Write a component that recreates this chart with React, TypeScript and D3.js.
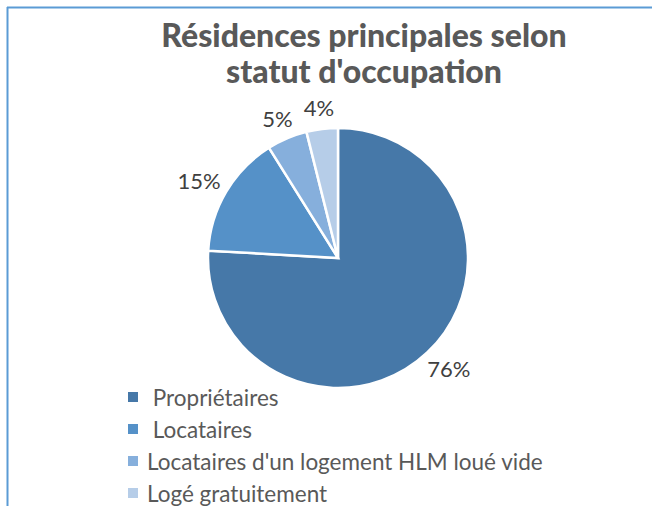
import React from "react";
import * as d3 from "d3";

// catégories (les deux premières ont un espace en tête, comme dans l'original)
const categories = [
  " Propriétaires",
  " Locataires",
  "Locataires d'un logement HLM loué vide",
  "Logé gratuitement",
];
const values = [75.9, 15.2, 5.0, 3.9];
const colors = ["#4678a8", "#5591c8", "#86afdc", "#b6cde8"];
const titleLines = ["Résidences principales selon", "statut d'occupation"];

const W = 652;
const H = 506;
const cx = 338;
const cy = 258;
const radius = 130;
const font = "Lato, 'Open Sans', sans-serif";

const App = () => {
  const total = d3.sum(values);
  const pie = d3
    .pie<number>()
    .sort(null)
    .value((d) => d);
  const arcs = pie(values);
  const arc = d3.arc<d3.PieArcDatum<number>>().innerRadius(0).outerRadius(radius);

  // étiquettes à l'extérieur, boîte décalée selon la direction
  const labelPos = (a: d3.PieArcDatum<number>, w: number, h: number) => {
    const mid = (a.startAngle + a.endAngle) / 2;
    const dx = Math.sin(mid);
    const dy = -Math.cos(mid);
    const r = radius + 12;
    return [dx * r + (dx * w) / 2, dy * r + (dy * h) / 2];
  };

  const legendY = d3.scaleLinear().domain([0, 3]).range([397, 493]);

  return (
    <div style={{ position: "absolute", left: 0, top: 0 }}>
      <svg width={W} height={H} style={{ display: "block" }}>
        <rect width={W} height={H} fill="#fff" />
        <line x1={7} y1={7.5} x2={W} y2={7.5} stroke="#5b9bd5" strokeWidth={2} />
        <line x1={7.5} y1={7} x2={7.5} y2={H} stroke="#5b9bd5" strokeWidth={2} />

        {titleLines.map((t, i) => (
          <text
            key={t}
            x={364}
            y={47 + i * 36}
            textAnchor="middle"
            fontFamily={font}
            fontWeight={900}
            fontSize={32}
            fill="#595959"
          >
            {t}
          </text>
        ))}

        <g transform={`translate(${cx},${cy})`}>
          {arcs.map((a, i) => (
            <path
              key={i}
              d={arc(a) || ""}
              fill={colors[i]}
              stroke="#fff"
              strokeWidth={2.5}
              strokeLinejoin="miter"
            />
          ))}
          {arcs.map((a, i) => {
            const txt = `${Math.round((a.data / total) * 100)}%`;
            const w = txt.length * 13;
            const [x, y] = labelPos(a, w, 20);
            return (
              <text
                key={i}
                x={x}
                y={y}
                textAnchor="middle"
                dominantBaseline="central"
                fontFamily={font}
                fontSize={22}
                fill="#404040"
              >
                {txt}
              </text>
            );
          })}
        </g>

        {categories.map((c, i) => (
          <g key={c} transform={`translate(128,${legendY(i)})`}>
            <rect x={0} y={-5} width={10} height={10} fill={colors[i]} />
            <text
              x={19}
              y={0}
              dominantBaseline="central"
              fontFamily={font}
              fontSize={22.5}
              fill="#595959"
              style={{ whiteSpace: "pre" }}
            >
              {c}
            </text>
          </g>
        ))}
      </svg>
    </div>
  );
};

export default App;
